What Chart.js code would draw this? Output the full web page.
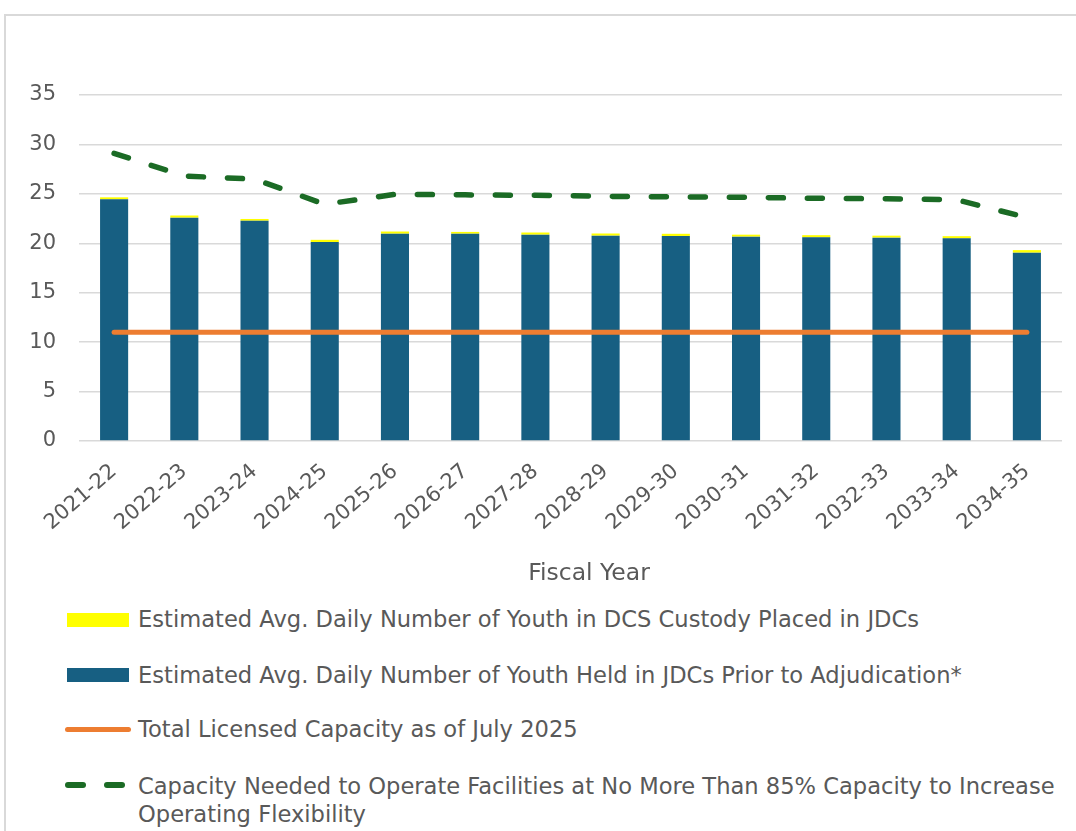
<!DOCTYPE html>
<html><head><meta charset="utf-8">
<script src="https://cdn.jsdelivr.net/npm/chart.js@4"></script>
<style>
html,body{margin:0;padding:0;background:#fff;width:1076px;height:831px;overflow:hidden;font-family:"DejaVu Sans",sans-serif;}
#frame{position:absolute;left:4px;top:14px;width:1300px;height:1000px;border:2px solid #d9d9d9;border-right:none;border-bottom:none;box-sizing:border-box;}
#wrap{position:absolute;left:0;top:0;width:1076px;height:600px;}
.txt{position:absolute;left:138px;color:#595959;font-size:22.6px;line-height:28px;white-space:nowrap;}
.sym{position:absolute;}
#xtitle{position:absolute;left:489px;width:200px;top:557px;line-height:30px;text-align:center;color:#595959;font-size:23.5px;}
</style></head>
<body>
<div id="frame"></div>
<div id="wrap"><canvas id="c" width="1076" height="600"></canvas></div>
<div id="xtitle"></div>
<div id="legend"></div>
<script>
const categories = ['2021-22','2022-23','2023-24','2024-25','2025-26','2026-27','2027-28','2028-29','2029-30','2030-31','2031-32','2032-33','2033-34','2034-35'];
const heldPriorValues = [24.45,22.59,22.28,20.13,20.97,20.97,20.87,20.77,20.74,20.67,20.6,20.57,20.5,19.05];
const dcsCustodyValues = [0.2,0.22,0.18,0.22,0.22,0.18,0.22,0.22,0.22,0.2,0.22,0.2,0.22,0.26];
const licensedCapacity = [11,11,11,11,11,11,11,11,11,11,11,11,11,11];
const capacityNeeded85 = [29.1,26.8,26.5,23.95,24.95,24.9,24.85,24.75,24.7,24.65,24.55,24.5,24.4,22.6];
const yTickMin = 0, yTickMax = 35, yTickStep = 5;
const seriesLabels = [
  'Estimated Avg. Daily Number of Youth in DCS Custody Placed in JDCs',
  'Estimated Avg. Daily Number of Youth Held in JDCs Prior to Adjudication*',
  'Total Licensed Capacity as of July 2025',
  'Capacity Needed to Operate Facilities at No More Than 85% Capacity to Increase Operating Flexibility'
];
const xTitle = 'Fiscal Year';

const BLUE='#175F82', YELLOW='#FFFF00', ORANGE='#ED7D31', GREEN='#1B6B25', TXT='#595959', GRID='#d9d9d9';
const FONT='"DejaVu Sans", sans-serif';

new Chart(document.getElementById('c'), {
  type:'bar',
  data:{
    labels:categories,
    datasets:[
      {label:seriesLabels[1], data:heldPriorValues, backgroundColor:BLUE, barPercentage:0.4, categoryPercentage:1, stack:'bars', order:2},
      {label:seriesLabels[0], data:dcsCustodyValues, backgroundColor:YELLOW, barPercentage:0.4, categoryPercentage:1, stack:'bars', order:2},
      {type:'line', label:seriesLabels[2], data:licensedCapacity, borderColor:ORANGE, backgroundColor:ORANGE, borderWidth:5, pointRadius:0, borderCapStyle:'round', fill:false, stack:'cap', order:0},
      {type:'line', label:seriesLabels[3], data:capacityNeeded85, borderColor:GREEN, backgroundColor:GREEN, borderWidth:5.5, borderDash:[15,24], borderCapStyle:'round', borderJoinStyle:'round', pointRadius:0, fill:false, tension:0, stack:'need', order:0}
    ]
  },
  options:{
    responsive:false, animation:false,
    layout:{padding:{top:95,right:14,left:0,bottom:0}},
    plugins:{legend:{display:false}, tooltip:{enabled:false}},
    scales:{
      x:{stacked:true, grid:{display:false}, border:{display:false},
         ticks:{color:TXT, font:{family:FONT,size:21}, minRotation:41, maxRotation:41, autoSkip:false, padding:10},
         title:{display:false},
         afterFit:(s)=>{s.height=159;}},
      y:{stacked:true, min:yTickMin, max:yTickMax,
         ticks:{stepSize:yTickStep, color:TXT, font:{family:FONT,size:21}, padding:23},
         grid:{color:GRID, lineWidth:1.5, drawTicks:false}, border:{display:false},
         afterFit:(s)=>{s.width=79;}}
    }
  }
});

document.getElementById('xtitle').textContent = xTitle;

// HTML legend
const leg = document.getElementById('legend');
function add(html){ leg.insertAdjacentHTML('beforeend', html); }
add(`<div class="sym" style="left:67px;top:613px;width:62px;height:14px;background:${YELLOW}"></div>`);
add(`<div class="txt" style="top:605px">${seriesLabels[0]}</div>`);
add(`<div class="sym" style="left:67px;top:668px;width:62px;height:14px;background:${BLUE}"></div>`);
add(`<div class="txt" style="top:661px">${seriesLabels[1]}</div>`);
add(`<div class="sym" style="left:65px;top:727px;width:66px;height:5px;border-radius:3px;background:${ORANGE}"></div>`);
add(`<div class="txt" style="top:715px">${seriesLabels[2]}</div>`);
add(`<div class="sym" style="left:65px;top:782px;width:21px;height:6px;border-radius:3px;background:${GREEN}"></div>`);
add(`<div class="sym" style="left:104px;top:782px;width:21px;height:6px;border-radius:3px;background:${GREEN}"></div>`);
add(`<div class="txt" style="top:772px;white-space:normal;width:930px">${seriesLabels[3]}</div>`);
</script>
</body></html>
